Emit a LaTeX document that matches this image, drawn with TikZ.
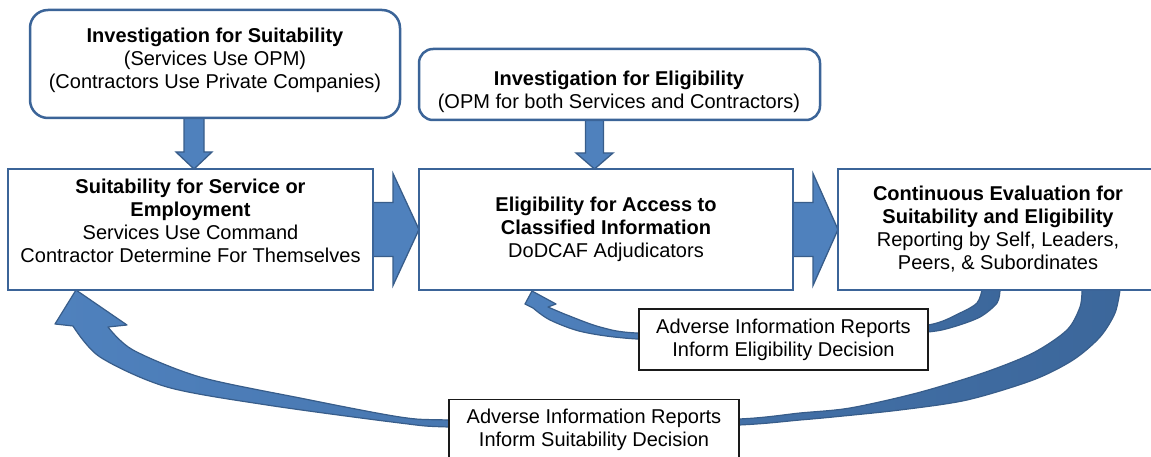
\documentclass[tikz,border=0pt]{standalone}
\usepackage{fontspec}
\setmainfont{Liberation Sans}
\usetikzlibrary{calc}
\pgfdeclarelayer{background}
\pgfsetlayers{background,main}
\definecolor{boxblue}{HTML}{3B6498}
\definecolor{arrfill}{HTML}{4F81BD}
\definecolor{arrdark}{HTML}{3C679B}
\definecolor{arredge}{HTML}{385D8A}
\definecolor{labline}{HTML}{1A1A1A}
\newcommand{\txtfont}{\fontsize{20}{23}\selectfont}
\tikzset{
  mainbox/.style={draw=boxblue, line width=2.5pt, fill=white, outer sep=0pt, inner sep=2pt, align=center, font=\txtfont},
  roundbox/.style={mainbox, rounded corners=#1},
  labbox/.style={draw=labline, line width=1.6pt, fill=white, outer sep=0pt, inner sep=2pt, align=center, font=\txtfont},
  txt/.style={align=center, inner sep=0pt, font=\txtfont},
  blockarrow/.style={draw=arredge, line width=1.3pt, fill=arrfill, line join=miter},
  curvearrow/.style={draw=arredge, line width=1.2pt, left color=arrfill, right color=arrdark, line join=round}
}
\begin{document}
\begin{tikzpicture}[x=1pt, y=-1pt]
\useasboundingbox (0,0) rectangle (1151,457);
\clip (0,0) rectangle (1151,457);

% boxes
\node[roundbox=18pt, minimum width=370pt, minimum height=108pt] (invS) at (215,64) {};
\node[txt] (invSt) at (215,60) {\textbf{Investigation for Suitability}\\(Services Use OPM)\\(Contractors Use Private Companies)};

\node[roundbox=14pt, minimum width=401pt, minimum height=71pt] (invE) at (619.5,84.5) {};
\node[txt] (invEt) at (619,92) {\textbf{Investigation for Eligibility}\\(OPM for both Services and Contractors)};

\node[mainbox, minimum width=365pt, minimum height=121pt] (suit) at (190.5,229.5) {};
\node[txt] (suitt) at (190.5,221) {\textbf{Suitability for Service or}\\\textbf{Employment}\\Services Use Command\\Contractor Determine For Themselves};

\node[mainbox, minimum width=374pt, minimum height=121pt] (elig) at (606,229.5)
  {\textbf{Eligibility for Access to}\\\textbf{Classified Information}\\DoDCAF Adjudicators};

\node[mainbox, minimum width=320pt, minimum height=121pt] (cont) at (998,229.5)
  {\textbf{Continuous Evaluation for}\\\textbf{Suitability and Eligibility}\\Reporting by Self, Leaders,\\Peers, \& Subordinates};

\node[labbox, minimum width=289pt, minimum height=61pt] (labE) at (783.5,339.5)
  {Adverse Information Reports\\Inform Eligibility Decision};

\node[labbox, minimum width=290pt, minimum height=60pt] (labS) at (594,429.5)
  {Adverse Information Reports\\Inform Suitability Decision};

\begin{pgfonlayer}{background}
% curved feedback arrow to suitability
\shadedraw[curvearrow]
  plot[smooth] coordinates {(1120,290) (1115,313) (1100,337) (1073,360) (1033,380) (967,400) (900,410) (833,417) (800,420) (739,425) (600,429) (449,427) (400,423) (267,405) (167,387) (100,357) (73,326)}
  -- (55,324) -- (suit.south -| 76,0) -- (127,325)
  -- plot[smooth] coordinates {(108,327) (133,350) (200,377) (300,398) (400,417) (449,420) (600,422) (739,419) (800,413) (850,408) (917,393) (983,373) (1033,353) (1067,330) (1080,307) (1082,290)}
  -- cycle;

% curved feedback arrow to eligibility
\shadedraw[curvearrow]
  plot[smooth] coordinates {(1000,290) (997,303) (980,317) (953,327) (928,332) (850,338) (750,342) (637,339) (583,332) (550,320) (533,308)}
  -- (525,304) -- (532,291) -- (556,304)
  -- plot[smooth] coordinates {(548,307) (567,315) (600,327) (637,333) (750,334) (850,330) (928,325) (960,313) (977,303) (982,290)}
  -- cycle;

% big right arrows
\draw[blockarrow] ($(suit.east)+(0,-27)$) -- ($(suit.east)+(20,-27)$) -- ($(suit.east)+(20,-56)$)
  -- (elig.west) -- ($(suit.east)+(20,56)$) -- ($(suit.east)+(20,27)$) -- ($(suit.east)+(0,27)$) -- cycle;
\draw[blockarrow] ($(elig.east)+(0,-27)$) -- ($(elig.east)+(20,-27)$) -- ($(elig.east)+(20,-56)$)
  -- (cont.west) -- ($(elig.east)+(20,56)$) -- ($(elig.east)+(20,27)$) -- ($(elig.east)+(0,27)$) -- cycle;

% down arrows
\coordinate (d1) at ([xshift=-21pt]invS.south);
\draw[blockarrow] ($(d1)+(-10,0)$) -- ($(d1)+(-10,34)$) -- ($(d1)+(-18,34)$) -- (d1 |- suit.north)
  -- ($(d1)+(18,34)$) -- ($(d1)+(10,34)$) -- ($(d1)+(10,0)$) -- cycle;
\coordinate (d2) at ([xshift=-25pt]invE.south);
\draw[blockarrow] ($(d2)+(-9,0)$) -- ($(d2)+(-9,33)$) -- ($(d2)+(-18.5,33)$) -- (d2 |- elig.north)
  -- ($(d2)+(18.5,33)$) -- ($(d2)+(9,33)$) -- ($(d2)+(9,0)$) -- cycle;
\end{pgfonlayer}
\end{tikzpicture}
\end{document}
